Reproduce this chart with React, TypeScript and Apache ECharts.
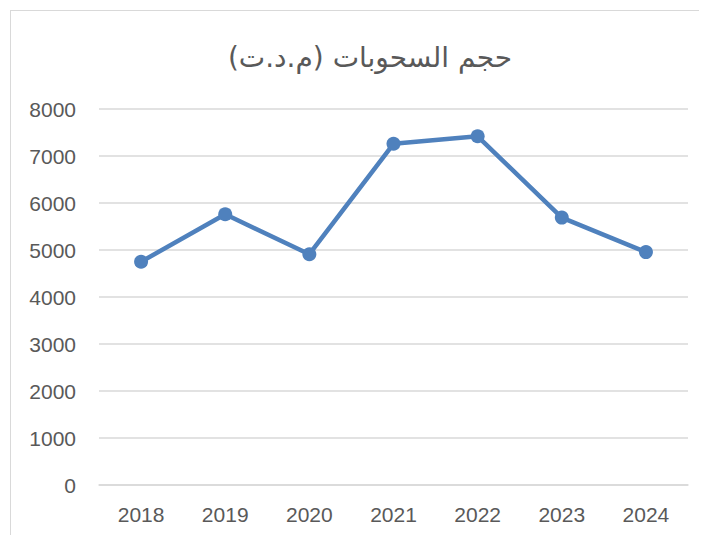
import React, { useEffect, useRef } from "react";
import * as echarts from "echarts";

const categories = ["2018", "2019", "2020", "2021", "2022", "2023", "2024"];
const values = [4750, 5760, 4910, 7260, 7420, 5690, 4955];
const yTicks = { min: 0, max: 8000, interval: 1000 };
const titleText = "حجم السحوبات (م.د.ت)";

export default function App() {
  const ref = useRef<HTMLDivElement>(null);
  useEffect(() => {
    if (!ref.current) return;
    const chart = echarts.init(ref.current, null, { renderer: "svg" });
    chart.setOption({
      animation: false,
      backgroundColor: "#ffffff",
      title: {
        text: titleText,
        left: 365,
        top: 38,
        textAlign: "center",
        textStyle: {
          fontFamily: "DejaVu Sans",
          fontSize: 28,
          fontWeight: "normal",
          color: "#595959",
        },
      },
      graphic: [
        {
          type: "line",
          shape: { x1: 10, y1: 10.5, x2: 707, y2: 10.5 },
          style: { stroke: "#d9d9d9", lineWidth: 1 },
          silent: true,
        },
        {
          type: "line",
          shape: { x1: 10.5, y1: 10, x2: 10.5, y2: 543 },
          style: { stroke: "#d9d9d9", lineWidth: 1 },
          silent: true,
        },
      ],
      grid: { left: 99, right: 19, top: 109, bottom: 58, containLabel: false },
      xAxis: {
        type: "category",
        data: categories,
        boundaryGap: true,
        axisLine: { show: true, lineStyle: { color: "#d9d9d9", width: 1.5 } },
        axisTick: { show: false },
        axisLabel: {
          color: "#595959",
          fontFamily: "Liberation Sans",
          fontSize: 21,
          margin: 19,
        },
      },
      yAxis: {
        type: "value",
        min: yTicks.min,
        max: yTicks.max,
        interval: yTicks.interval,
        axisLine: { show: false },
        axisTick: { show: false },
        splitLine: { show: true, lineStyle: { color: "#d9d9d9", width: 1.5 } },
        axisLabel: {
          color: "#595959",
          fontFamily: "Liberation Sans",
          fontSize: 21,
          margin: 23,
          formatter: (v: number) => String(v),
        },
      },
      series: [
        {
          type: "line",
          data: values,
          symbol: "circle",
          symbolSize: 14,
          lineStyle: { color: "#4f81bd", width: 4.5 },
          itemStyle: { color: "#4f81bd" },
        },
      ],
    });
    return () => chart.dispose();
  }, []);
  return <div ref={ref} style={{ width: 707, height: 543, margin: -8 }} />;
}
